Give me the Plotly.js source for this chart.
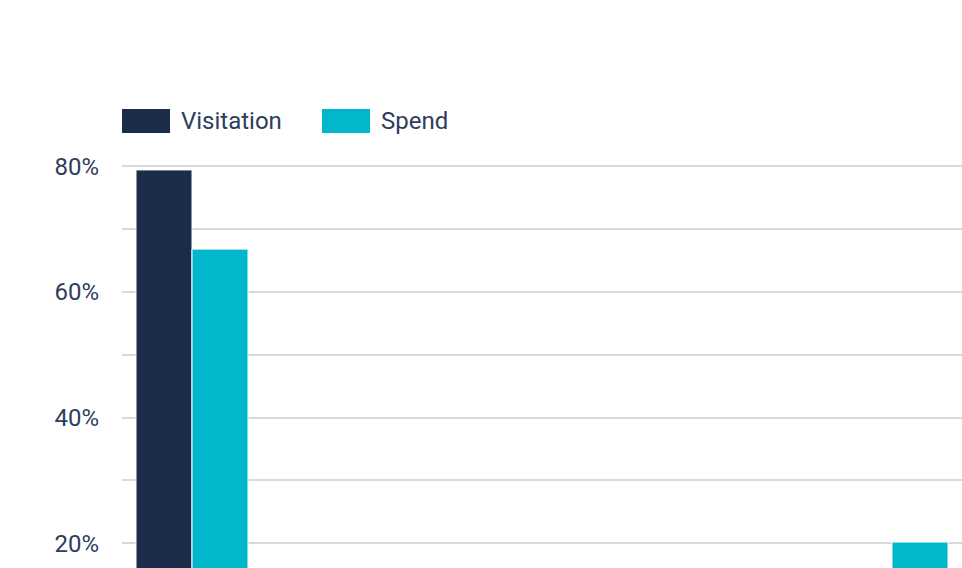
<!DOCTYPE html>
<html>
<head>
<meta charset="utf-8">
<script src="https://cdn.plot.ly/plotly-3.0.1.min.js"></script>
<style>
html, body { margin: 0; padding: 0; overflow: hidden; background: #fff; }
#chart { width: 962px; height: 760px; }
</style>
</head>
<body>
<div id="chart"></div>
<script>
// Data (categories beyond the visible crop are estimated; they fall below the cut-off)
const categories = ["Day trip", "Overnight", "Interstate", "Intrastate", "International", "Business"];
const visitation = [79.4, 8.0, 4.5, 3.0, 2.5, 2.6];
const spend = [66.8, 5.0, 3.5, 2.5, 2.0, 20.2];
const seriesNames = ["Visitation", "Spend"];
const seriesColors = ["#1b2b4a", "#00b7cc"];
const yTickVals = [0, 10, 20, 30, 40, 50, 60, 70, 80];
const yTickText = ["0%", "", "20%", "", "40%", "", "60%", "", "80%"];

const W = 962, H = 760;
const M = { l: 122, r: 0, t: 163, b: 91 };
const plotW = W - M.l - M.r, plotH = H - M.t - M.b;
const px2x = p => (p - M.l) / plotW;
const px2y = p => (H - M.b - p) / plotH;

const textColor = "#2e3d5c";
const font = { family: "Roboto, 'Noto Sans', sans-serif", size: 24, color: textColor };

const traces = [visitation, spend].map((vals, i) => ({
  type: "bar",
  name: seriesNames[i],
  x: categories,
  y: vals,
  marker: { color: seriesColors[i], line: { color: "#ffffff", width: 1 } },
  hoverinfo: "x+y+name"
}));

// Custom legend (large swatches)
const legendItems = [{ sx: 122 }, { sx: 322 }];
const shapes = [], annotations = [];
legendItems.forEach((it, i) => {
  shapes.push({
    type: "rect", xref: "paper", yref: "paper", layer: "above",
    x0: px2x(it.sx), x1: px2x(it.sx + 48), y0: px2y(133), y1: px2y(109),
    fillcolor: seriesColors[i], line: { width: 0 }
  });
  annotations.push({
    xref: "paper", yref: "paper", x: px2x(it.sx + 57), y: px2y(121),
    xanchor: "left", yanchor: "middle", showarrow: false,
    text: seriesNames[i], font: font
  });
});

const layout = {
  width: W, height: H,
  margin: M,
  paper_bgcolor: "#ffffff", plot_bgcolor: "#ffffff",
  font: font,
  showlegend: false,
  barmode: "group",
  bargap: 0.2,
  bargroupgap: 0,
  xaxis: {
    type: "category",
    showgrid: false, zeroline: false, showline: false,
    ticks: "", tickfont: font
  },
  yaxis: {
    range: [0, 80.5],
    tickmode: "array", tickvals: yTickVals, ticktext: yTickText,
    showgrid: true, gridcolor: "#d9d9d9", gridwidth: 2,
    zeroline: false, showline: false, ticks: "",
    ticklabelstandoff: 22,
    tickfont: font
  },
  shapes: shapes,
  annotations: annotations
};

Plotly.newPlot("chart", traces, layout, { displayModeBar: false, staticPlot: true });
</script>
</body>
</html>
